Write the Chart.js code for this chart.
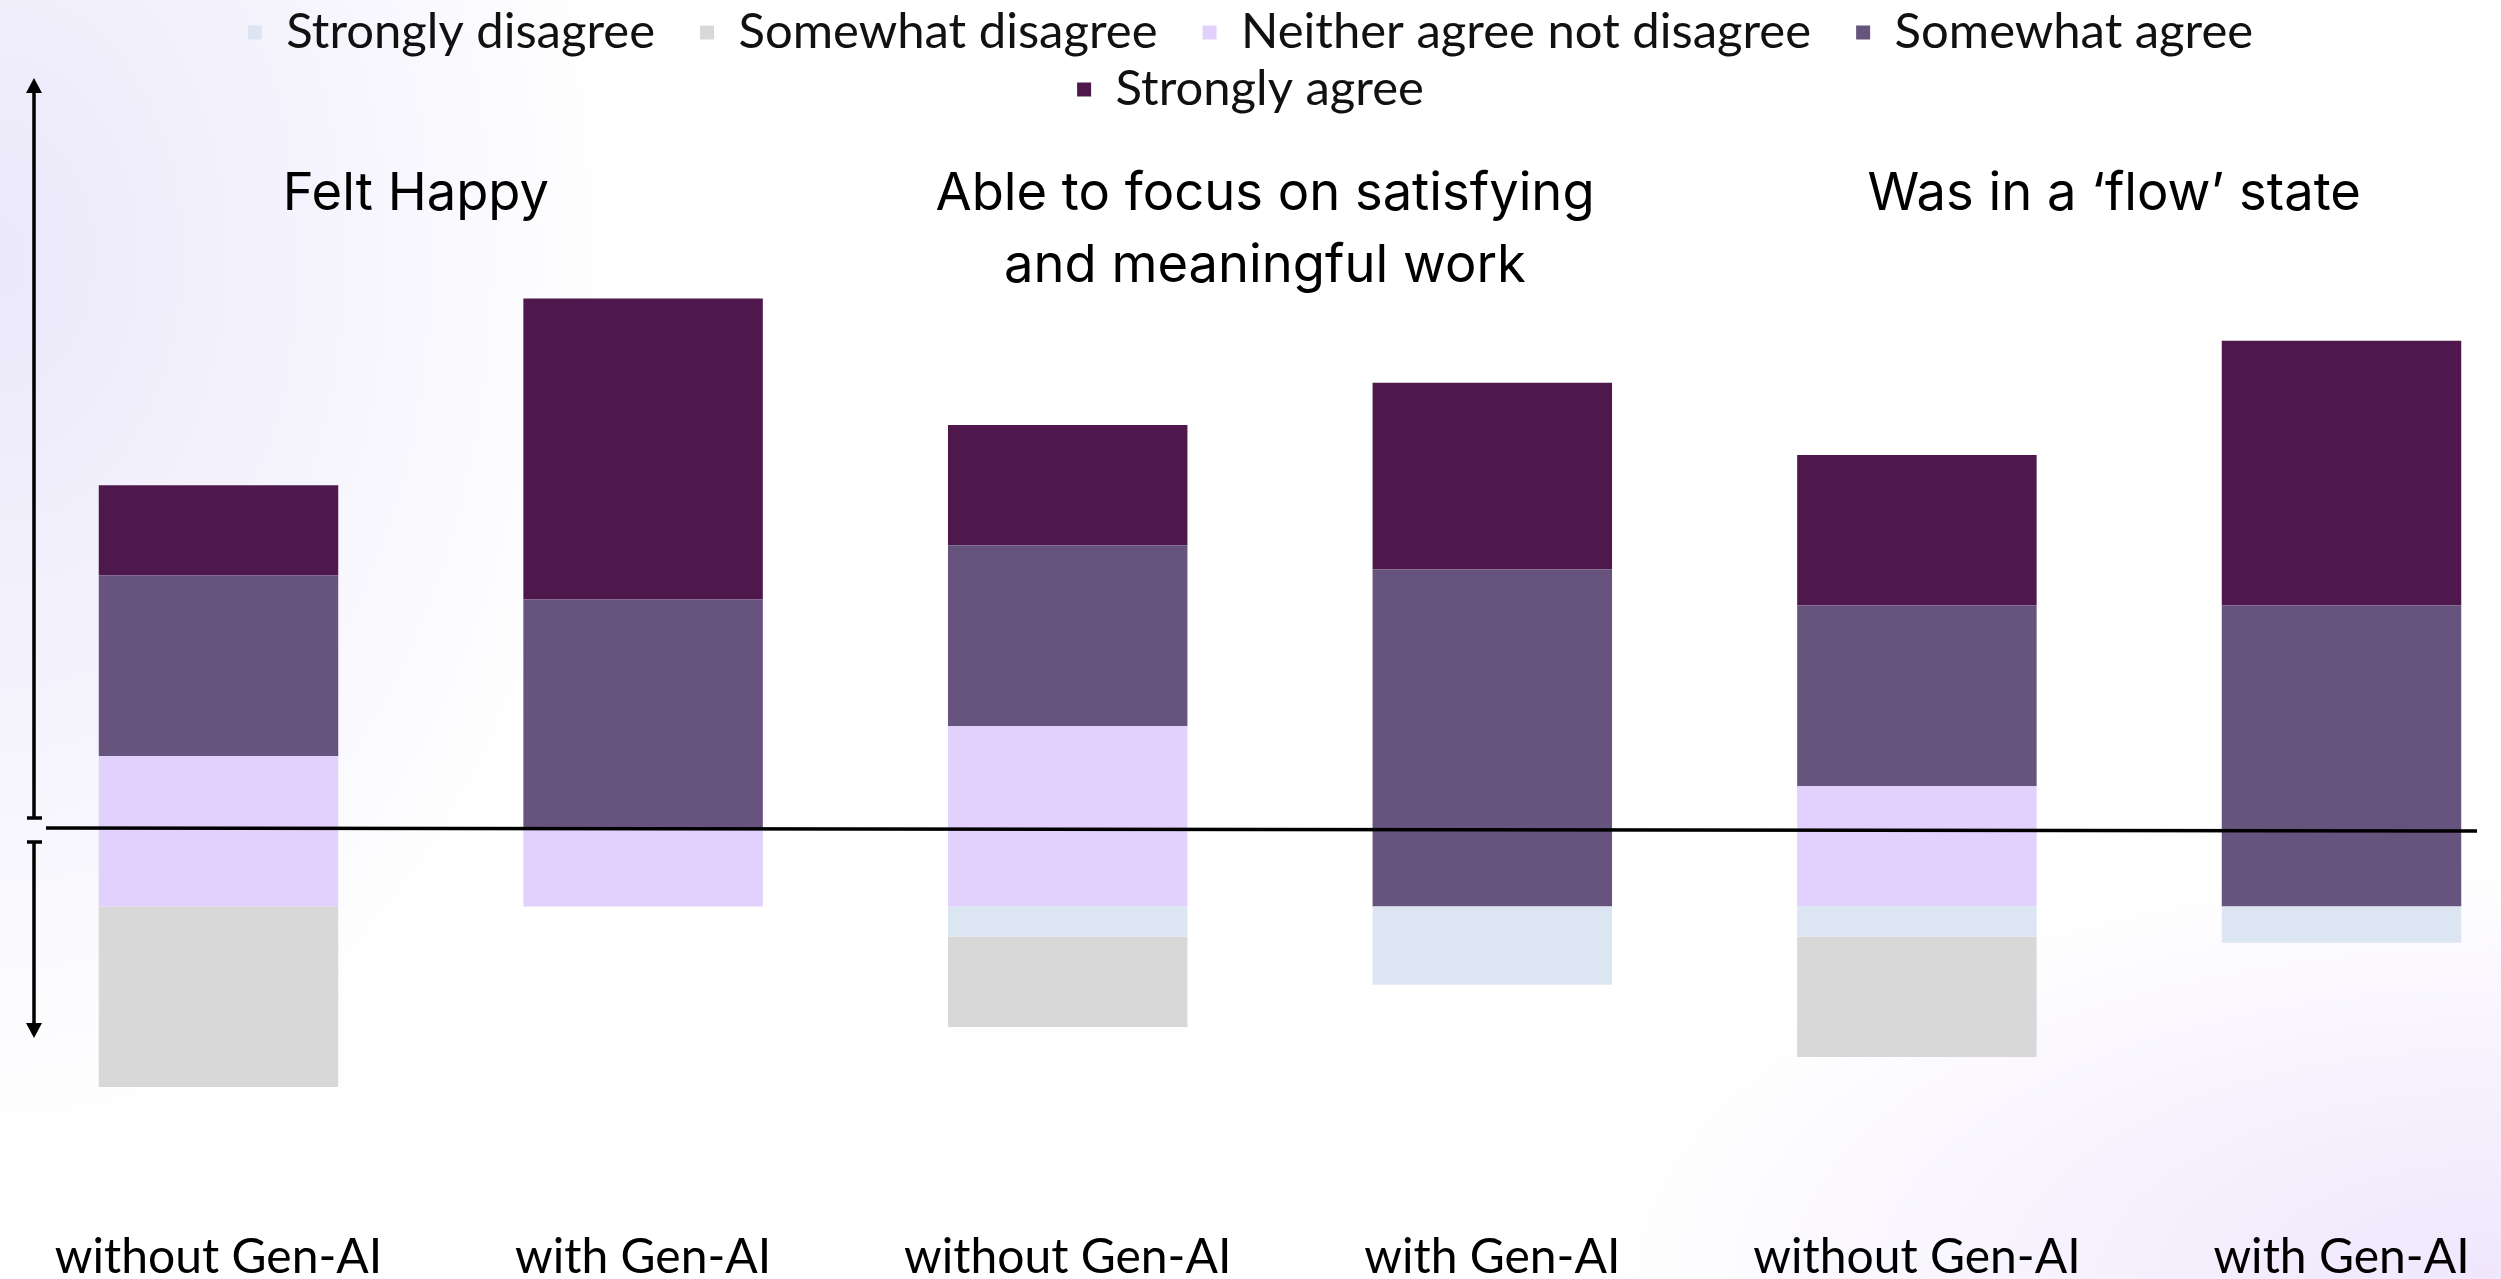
<!DOCTYPE html>
<html lang="en">
<head>
  <meta charset="UTF-8" />
  <title>Gen-AI and wellbeing at work</title>
  <script src="https://cdn.jsdelivr.net/npm/chart.js"></script>
  <style>
    html, body { margin: 0; padding: 0; }
    body {
      width: 2501px; height: 1279px; overflow: hidden;
      background:
        radial-gradient(ellipse 620px 900px at 0% 20%, rgba(233,231,250,0.95), rgba(255,255,255,0) 100%),
        radial-gradient(ellipse 900px 420px at 100% 100%, rgba(239,230,252,1), rgba(255,255,255,0) 100%),
        #fff;
    }
    .caja { position: relative; width: 2501px; height: 1279px; }
  </style>
</head>
<body>
  <div class="caja"><canvas id="grafica"></canvas></div>

  <script>
    // bars, left to right
    const categorias = ['without Gen-AI', 'with Gen-AI', 'without Gen-AI', 'with Gen-AI', 'without Gen-AI', 'with Gen-AI'];
    // one title per pair of bars
    const titulos = [['Felt Happy'], ['Able to focus on satisfying', 'and meaningful work'], ['Was in a ‘flow’ state']];

    // share of answers (%)
    const stronglyDisagree = [0, 0, 5, 13, 5, 6];
    const somewhatDisagree = [30, 0, 15, 0, 20, 0];
    const neitherAgree     = [25, 13, 30, 0, 20, 0];
    const somewhatAgree    = [30, 38, 30, 56, 30, 50];
    const stronglyAgree    = [15, 50, 20, 31, 25, 44];

    const colores = ['#dce6f2', '#d8d8d8', '#e2d1fc', '#66547e', '#4e184c'];

    function serie(label, valores, color, negativo) {
      return {
        label: label,
        data: valores.map(v => negativo ? -v : v),
        backgroundColor: color,
        borderWidth: 0,
        barPercentage: 1,
        categoryPercentage: 0.564,
        clip: false
      };
    }

    const decoraciones = {
      id: 'decoraciones',
      afterLayout(chart) {
        // keep the wrapped legend centred on the page
        const lg = chart.legend;
        const d = chart.width / 2 - (lg.left + lg.right) / 2;
        lg.left += d; lg.right += d;
      },
      afterDraw(chart) {
        const c = chart.ctx;
        const x = chart.scales.x;
        c.save();
        c.strokeStyle = '#000';
        c.fillStyle = '#000';
        c.lineWidth = 3.5;

        // line across the chart
        c.beginPath();
        c.moveTo(46, 828);
        c.lineTo(2477, 831);
        c.stroke();

        // double arrow on the left
        c.beginPath();
        c.moveTo(34, 92); c.lineTo(34, 818);
        c.moveTo(27, 818); c.lineTo(42, 818);
        c.moveTo(27, 842); c.lineTo(42, 842);
        c.moveTo(34, 842); c.lineTo(34, 1024);
        c.stroke();
        c.beginPath();
        c.moveTo(34, 78); c.lineTo(26, 93); c.lineTo(42, 93); c.closePath();
        c.moveTo(34, 1038); c.lineTo(26, 1023); c.lineTo(42, 1023); c.closePath();
        c.fill();

        // group titles
        c.font = '400 52.5px Inter';
        c.textAlign = 'center';
        c.textBaseline = 'middle';
        titulos.forEach((lineas, i) => {
          const cx = (x.getPixelForValue(2 * i) + x.getPixelForValue(2 * i + 1)) / 2 - 15;
          lineas.forEach((t, j) => c.fillText(t, cx, 194 + j * 72));
        });
        c.restore();
      }
    };

    new Chart(document.getElementById('grafica'), {
      type: 'bar',
      data: {
        labels: categorias,
        datasets: [
          serie('Strongly disagree', stronglyDisagree, colores[0], true),
          serie('Somewhat disagree', somewhatDisagree, colores[1], true),
          serie('Neither agree not disagree', neitherAgree, colores[2], false),
          serie('Somewhat agree', somewhatAgree, colores[3], false),
          serie('Strongly agree', stronglyAgree, colores[4], false)
        ]
      },
      options: {
        responsive: true,
        maintainAspectRatio: false,
        animation: false,
        layout: { padding: { left: 218.5, right: 159.5, top: 0, bottom: 0 } },
        plugins: {
          tooltip: { enabled: false },
          legend: {
            position: 'top',
            labels: {
              boxWidth: 14,
              boxHeight: 14,
              padding: 8,
              color: '#111',
              font: { family: 'Lato', size: 49 },
              generateLabels: chart => {
                const items = Chart.defaults.plugins.legend.labels.generateLabels(chart);
                items.forEach((it, i) => { if (i < 3) it.text += '\u2002 '; });
                return items;
              }
            }
          }
        },
        scales: {
          x: {
            stacked: true,
            offset: false,
            grid: { display: false, drawTicks: false },
            border: { display: false },
            ticks: {
              autoSkip: false, maxRotation: 0, padding: 0, color: '#000',
              font: { family: 'Lato', size: 48, lineHeight: 0.875 }
            }
          },
          y: { stacked: true, display: false, min: -54.9, max: 130 }
        }
      },
      plugins: [decoraciones]
    });
  </script>
</body>
</html>
